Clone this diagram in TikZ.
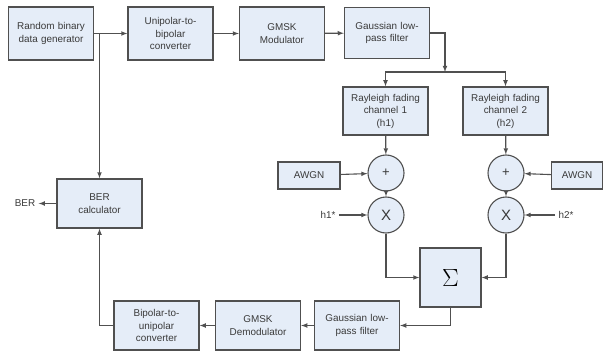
\documentclass[tikz,border=0pt]{standalone}
\usepackage{fontspec}
\setmainfont{Liberation Sans}
\usepackage{tikz}
\usetikzlibrary{positioning}
\usepackage{xcolor}
\definecolor{boxfill}{HTML}{E5EDF8}
\definecolor{boxline}{HTML}{505050}
\definecolor{txtgray}{HTML}{3A3A3A}

\begin{document}
\begin{tikzpicture}[x=1pt, y=-1pt, font=\fontsize{9.9}{12.5}\selectfont, text=txtgray]
        % Define block styles
        \tikzstyle{block} = [rectangle, draw=boxline, line width=1.3pt, fill=boxfill, text width=82pt, align=center, minimum width=85pt, minimum height=51pt, inner sep=1pt]
        \tikzstyle{small} = [rectangle, draw=boxline, line width=1.3pt, fill=boxfill, minimum height=27pt, inner sep=1pt]
        \tikzstyle{op} = [circle, draw=boxline, line width=1.1pt, fill=boxfill, minimum size=36pt, inner sep=0pt]
        \tikzstyle{line} = [draw=boxline, line width=1.1pt, -latex]
        \useasboundingbox (0,0) rectangle (603,353);

        % Nodes
        \node [block, minimum height=53pt] (generator) at (51,33.5) {Random binary\\data generator};
        \node [block, minimum height=53pt] (unitobi) at (170.5,33.5) {Unipolar-to-\\bipolar\\converter};
        \node [block, minimum height=53pt] (modulator) at (282,33.5) {GMSK\\Modulator};
        \node [block] (lpftx) at (387,33) {Gaussian low-\\pass filter};
        \node [block, minimum height=48pt] (fading1) at (385.5,111) {Rayleigh fading\\channel 1\\(h1)};
        \node [block, minimum height=48pt] (fading2) at (505.5,111) {Rayleigh fading\\channel 2\\(h2)};
        \node [op, font=\fontsize{13}{13}\selectfont] (add1) at (386,173) {+};
        \node [op, font=\fontsize{13}{13}\selectfont] (add2) at (506,173) {+};
        \node [small, minimum width=62pt] (noise1) at (309,175.5) {AWGN};
        \node [small, minimum width=51pt] (noise2) at (577,175.5) {AWGN};
        \node [op, font=\fontsize{15}{15}\selectfont] (mul1) at (386,215) {X};
        \node [op, font=\fontsize{15}{15}\selectfont] (mul2) at (506,215) {X};
        \node (conj1) at (328,215) {h1*};
        \node (conj2) at (566,215) {h2*};
        \node [block, text width=55pt, minimum width=61pt, minimum height=59pt, text=black, font=\fontsize{30}{30}\selectfont] (combiner) at (450.5,277.5) {$\Sigma$};
        \node [block, minimum height=49pt] (lpfrx) at (357,325.5) {Gaussian low-\\pass filter};
        \node [block, minimum height=49pt] (demodulator) at (258,325.5) {GMSK\\Demodulator};
        \node [block, minimum height=49pt] (bitouni) at (156.5,325.5) {Bipolar-to-\\unipolar\\converter};
        \node [block, minimum height=49pt] (bercalc) at (99.5,203.5) {BER\\calculator};
        \node (berout) at (25,203.5) {BER};
        \coordinate (split) at (445,72);

        % Arrows
        \path [line] (generator) -- (unitobi);
        \path [line] (unitobi) -- (modulator);
        \path [line] (modulator) -- (lpftx);
        \path [line] (lpftx.east) -| (split);
        \path [line] (split) -| (fading1.north);
        \path [line] (split) -| (fading2.north);
        \path [line] (fading1) -- (add1);
        \path [line] (fading2) -- (add2);
        \path [line] (noise1) -- (add1);
        \path [line] (noise2) -- (add2);
        \path [line] (add1) -- (mul1);
        \path [line] (add2) -- (mul2);
        \path [line] (conj1) -- (mul1);
        \path [line] (conj2) -- (mul2);
        \path [line] (mul1.south) |- (combiner.west);
        \path [line] (mul2.south) |- (combiner.east);
        \path [line] (combiner.south) |- (lpfrx.east);
        \path [line] (lpfrx) -- (demodulator);
        \path [line] (demodulator) -- (bitouni);
        \path [line] (bitouni.west) -| (bercalc.south);
        \path [line] (generator.east -| bercalc.north) -- (bercalc.north);
        \path [line] (bercalc) -- (berout);

    \end{tikzpicture}
\end{document}
